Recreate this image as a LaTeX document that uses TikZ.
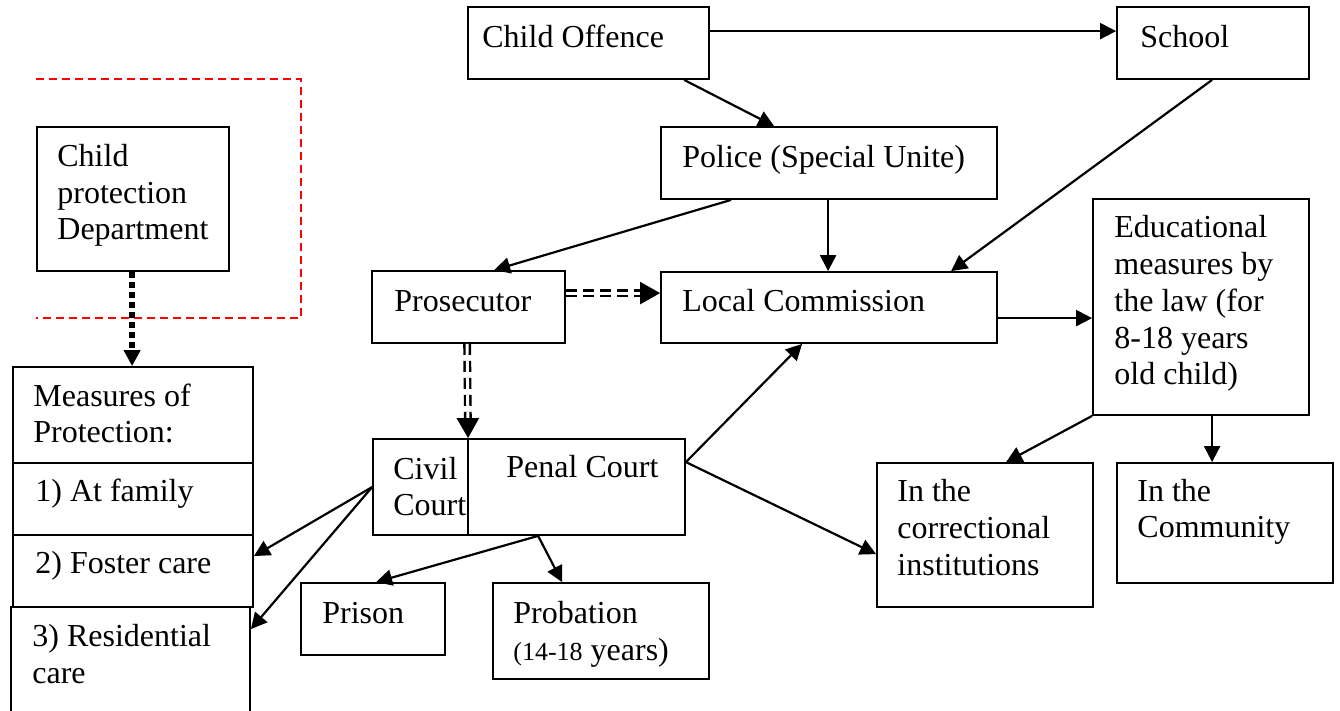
\documentclass[tikz,border=0pt]{standalone}
\usepackage{fontspec}
\setmainfont{Liberation Serif}
\usetikzlibrary{arrows.meta,calc,fit}
\begin{document}
\begin{tikzpicture}[x=0.5pt,y=-0.5pt,
 box/.style={draw, line width=0.9pt, inner sep=0pt},
 lbl/.style={anchor=base west, inner sep=0pt, align=left, font=\fontsize{16}{18.4}\selectfont},
 arr/.style={line width=1.1pt, -{Triangle[length=8pt,width=8pt]}},
 dbl/.style={double, double distance=1.5pt, line width=1.2pt, dash pattern=on 5.5pt off 3pt, -{Triangle[length=10pt,width=11pt]}},
 dotarr/.style={line width=3pt, dash pattern=on 3pt off 2pt, -{Triangle[length=8pt,width=8pt]}},
 reddash/.style={red, line width=0.8pt, dash pattern=on 4pt off 2.5pt}]
\useasboundingbox (0,0) rectangle (1340,711);
\fill[white] (0,0) rectangle (1340,711);
\clip (0,0) rectangle (1340,711);

% boxes
\node[box, fit={(468,7) (709,79)}] (co) {};
\node[box, fit={(1117,7) (1309,79)}] (sc) {};
\node[box, fit={(661,127) (997,199)}] (po) {};
\node[box, fit={(37,127) (229,271)}] (cp) {};
\node[box, fit={(372,271) (565,343)}] (pr) {};
\node[box, fit={(661,272) (997,343)}] (lc) {};
\node[box, fit={(1093,199) (1309,415)}] (ed) {};
\node[box, fit={(373,439) (685,535)}] (ct) {};
\node[box, fit={(301,583) (445,655)}] (pn) {};
\node[box, fit={(493,583) (709,679)}] (pb) {};
\node[box, fit={(13,367) (253,463)}] (ms) {};
\node[box, fit={(13,463) (253,535)}] (m1) {};
\node[box, fit={(13,535) (253,607)}] (m2) {};
\node[box, fit={(11,607) (250,740)}] (m3) {};
\node[box, fit={(877,463) (1093,607)}] (ci) {};
\node[box, fit={(1117,463) (1333,583)}] (cm) {};
\draw[line width=0.9pt] ($(ct.north west)+(96,0)$) -- ($(ct.south west)+(96,0)$);

% red dashed frame
\draw[reddash] (36,79) -- (301,79) -- (301,318) -- (36,318);

% texts (anchor = baseline of last line)
\node[lbl] (co-t) at (482,48) {Child Offence};
\node[lbl] (sc-t) at (1140,48) {School};
\node[lbl] (po-t) at (682,168) {Police (Special Unite)};
\node[lbl] (cp-t) at (57,240) {Child\\protection\\Department};
\node[lbl] (pr-t) at (394,312) {Prosecutor};
\node[lbl] (lc-t) at (682,312) {Local Commission};
\node[lbl] (ed-t) at (1114,385) {Educational\\measures by\\the law (for\\8-18 years\\old child)};
\node[lbl] (ct-a) at (393,516) {Civil\\Court};
\node[lbl] (ct-b) at (506,478) {Penal Court};
\node[lbl] (pn-t) at (322,623) {Prison};
\node[lbl] (pb-t) at (513,660) {Probation\\{\fontsize{13}{15}\selectfont(14-18} years)};
\node[lbl] (ms-t) at (33,443) {Measures of\\Protection:};
\node[lbl] (m1-t) at (35,502) {1) At family};
\node[lbl] (m2-t) at (35,573) {2) Foster care};
\node[lbl] (m3-t) at (32,683) {3) Residential\\care};
\node[lbl] (ci-t) at (897,575) {In the\\correctional\\institutions};
\node[lbl] (cm-t) at (1137,538) {In the\\Community};

% connectors
\draw[arr] ($(co.north east)+(0,25)$) -- ($(sc.north west)+(0,25)$);
\draw[arr] ($(co.south west)+(217,0)$) -- ($(po.north west)+(114,0)$);
\draw[arr] ($(sc.south west)+(96,0)$) -- ($(lc.north west)+(291,0)$);
\draw[arr] ($(po.south west)+(168,0)$) -- ($(lc.north west)+(168,0)$);
\draw[arr] ($(po.south west)+(71,0)$) -- ($(pr.north west)+(123,0)$);
\draw[dbl] ($(pr.north east)+(0,23)$) -- ($(lc.north west)+(0,22)$);
\draw[dbl] ($(pr.south west)+(96,0)$) -- ($(ct.north west)+(96,0)$);
\draw[arr] ($(lc.north east)+(0,47)$) -- ($(ed.north west)+(0,120)$);
\draw[arr] (ed.south west) -- ($(ci.north west)+(130,0)$);
\draw[arr] ($(ed.south west)+(120,0)$) -- ($(cm.north west)+(96,0)$);
\draw[arr] ($(ct.north east)+(0,24)$) -- ($(lc.south west)+(142,0)$);
\draw[arr] ($(ct.north east)+(0,24)$) -- ($(ci.north west)+(0,92)$);
\draw[arr] ($(ct.north west)+(0,49)$) -- ($(m2.north east)+(0,22)$);
\draw[arr] ($(ct.north west)+(0,49)$) -- ($(m3.north east)+(0,23)$);
\draw[arr] ($(ct.south west)+(166,0)$) -- ($(pn.north west)+(76,0)$);
\draw[arr] ($(ct.south west)+(166,0)$) -- ($(pb.north west)+(70,0)$);
\draw[dotarr] ($(cp.south west)+(96,0)$) -- ($(ms.north west)+(120,0)$);
\end{tikzpicture}
\end{document}
